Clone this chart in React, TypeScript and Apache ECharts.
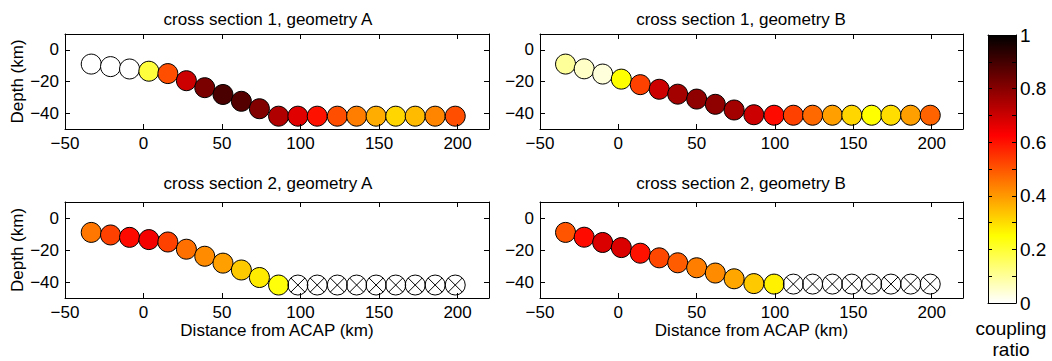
import React, { useEffect, useRef } from "react";
import * as echarts from "echarts";

// ---- data ----
const X_GEOM_A = [-33.3, -21.0, -8.9, 3.4, 15.5, 27.3, 39.0, 50.6, 62.3, 73.8, 86.0, 98.3, 110.6, 123.4, 135.7, 148.1, 160.6, 173.0, 185.7, 198.5];
const DEPTH_GEOM_A = [-9.0, -10.6, -12.1, -13.5, -15.0, -19.5, -23.9, -28.2, -32.5, -37.2, -41.9, -41.9, -41.9, -41.9, -41.9, -41.9, -41.9, -41.9, -41.9, -41.9];
const X_GEOM_B = [-33.7, -21.8, -10.0, 1.9, 14.0, 26.1, 37.9, 50.0, 61.9, 73.9, 86.5, 99.4, 111.7, 124.0, 136.6, 149.0, 161.7, 174.0, 186.6, 199.1];
const DEPTH_GEOM_B = [-9.0, -12.0, -15.3, -18.5, -22.0, -24.9, -28.0, -31.1, -34.4, -38.0, -41.0, -41.3, -41.3, -41.3, -41.3, -41.3, -41.3, -41.3, -41.3, -41.3];

const COUPLING_CS1_A = [0, 0, 0, 0.19, 0.51, 0.7, 0.82, 0.89, 0.875, 0.81, 0.74, 0.67, 0.6, 0.51, 0.44, 0.37, 0.31, 0.35, 0.43, 0.51];
const COUPLING_CS1_B = [0.1, 0.055, 0.035, 0.25, 0.53, 0.7, 0.76, 0.79, 0.79, 0.76, 0.7, 0.61, 0.53, 0.47, 0.39, 0.31, 0.25, 0.3, 0.39, 0.48];
const COUPLING_CS2_A = [0.45, 0.53, 0.61, 0.64, 0.53, 0.46, 0.42, 0.39, 0.33, 0.28, 0.24, null, null, null, null, null, null, null, null, null];
const COUPLING_CS2_B = [0.5, 0.61, 0.68, 0.68, 0.6, 0.52, 0.49, 0.44, 0.42, 0.38, 0.33, 0.27, null, null, null, null, null, null, null, null];

const PANEL_TITLES = [
  "cross section 1, geometry A",
  "cross section 1, geometry B",
  "cross section 2, geometry A",
  "cross section 2, geometry B",
];

const X_TICKS = [-50, 0, 50, 100, 150, 200];
const Y_TICKS = [-40, -20, 0];
const CB_LABELS = [0, 0.2, 0.4, 0.6, 0.8, 1];
const CB_TICKS = [0, 0.1, 0.2, 0.3, 0.4, 0.5, 0.6, 0.7, 0.8, 0.9, 1];

// reversed "hot" colormap, evenly spaced from 0 to 1
const COLORMAP = ["#ffffff", "#ffff80", "#ffff00", "#ffaa00", "#ff5500", "#ff0000", "#aa0000", "#550000", "#000000"];

const FONT = "'Liberation Sans', Arial, Helvetica, sans-serif";
const minus = (v: number) => String(v).replace("-", "\u2212");

const CROSS_PATH =
  "path://M0,-10A10,10,0,1,1,0,10A10,10,0,1,1,0,-10ZM-7.07,-7.07L7.07,7.07M-7.07,7.07L7.07,-7.07";

const PANELS = [
  { x: X_GEOM_A, y: DEPTH_GEOM_A, c: COUPLING_CS1_A },
  { x: X_GEOM_B, y: DEPTH_GEOM_B, c: COUPLING_CS1_B },
  { x: X_GEOM_A, y: DEPTH_GEOM_A, c: COUPLING_CS2_A },
  { x: X_GEOM_B, y: DEPTH_GEOM_B, c: COUPLING_CS2_B },
];

const GRIDS = [
  { left: 65, top: 34, width: 424, height: 95 },
  { left: 540, top: 34, width: 423, height: 95 },
  { left: 65, top: 202, width: 424, height: 96 },
  { left: 540, top: 202, width: 423, height: 96 },
  { left: 988, top: 35, width: 28, height: 268 },
];

const TITLE_POS = [
  { x: 268, y: 19 },
  { x: 741, y: 19 },
  { x: 268, y: 183 },
  { x: 741, y: 183 },
];

function buildOption() {
  const line = { onZero: false, lineStyle: { color: "#000", width: 1 } };
  const xAxes: any[] = [];
  const yAxes: any[] = [];
  for (let i = 0; i < 4; i++) {
    const tick = { inside: true, length: 5, lineStyle: { color: "#000" } };
    xAxes.push({
      type: "value", gridIndex: i, position: "bottom", min: -50, max: 220, z: 5,
      axisLine: line,
      axisTick: { ...tick, customValues: X_TICKS },
      axisLabel: { customValues: X_TICKS, formatter: minus, color: "#000", fontSize: 17, fontFamily: FONT, margin: 6 },
      splitLine: { show: false },
      name: i >= 2 ? "Distance from ACAP (km)" : "",
      nameLocation: "middle", nameGap: 24,
      nameTextStyle: { color: "#000", fontSize: 17, fontFamily: FONT },
    });
    xAxes.push({
      type: "value", gridIndex: i, position: "top", min: -50, max: 220, z: 5,
      axisLine: line,
      axisTick: { ...tick, customValues: X_TICKS },
      axisLabel: { show: false },
      splitLine: { show: false },
    });
    yAxes.push({
      type: "value", gridIndex: i, position: "left", min: -50, max: 10, z: 5,
      axisLine: line,
      axisTick: { ...tick, customValues: Y_TICKS },
      axisLabel: { customValues: Y_TICKS, formatter: minus, color: "#000", fontSize: 17, fontFamily: FONT, margin: 6 },
      splitLine: { show: false },
      name: i % 2 === 0 ? "Depth (km)" : "",
      nameLocation: "middle", nameGap: 39,
      nameTextStyle: { color: "#000", fontSize: 17, fontFamily: FONT },
    });
    yAxes.push({
      type: "value", gridIndex: i, position: "right", min: -50, max: 10, z: 5,
      axisLine: line,
      axisTick: { ...tick, customValues: Y_TICKS },
      axisLabel: { show: false },
      splitLine: { show: false },
    });
  }
  // colorbar axes (grid 4)
  xAxes.push({
    type: "value", gridIndex: 4, position: "bottom", min: 0, max: 1, z: 5,
    axisLine: { ...line, show: true }, axisTick: { show: false }, axisLabel: { show: false }, splitLine: { show: false },
  });
  xAxes.push({
    type: "value", gridIndex: 4, position: "top", min: 0, max: 1, z: 5,
    axisLine: { ...line, show: true }, axisTick: { show: false }, axisLabel: { show: false }, splitLine: { show: false },
  });
  yAxes.push({
    type: "value", gridIndex: 4, position: "right", min: 0, max: 1, z: 5,
    axisLine: line,
    axisTick: { inside: true, length: 4, customValues: CB_TICKS, lineStyle: { color: "#000" } },
    axisLabel: { customValues: CB_LABELS, color: "#000", fontSize: 19, fontFamily: FONT, margin: 4 },
    splitLine: { show: false },
  });
  yAxes.push({
    type: "value", gridIndex: 4, position: "left", min: 0, max: 1, z: 5,
    axisLine: line,
    axisTick: { inside: true, length: 4, customValues: CB_TICKS, lineStyle: { color: "#000" } },
    axisLabel: { show: false },
    splitLine: { show: false },
  });

  const colored: any[] = [];
  const crosses: any[] = [];
  PANELS.forEach((p, i) => {
    const filled: any[] = [];
    const empty: any[] = [];
    p.x.forEach((xv, k) => {
      if (p.c[k] === null) empty.push([xv, p.y[k]]);
      else filled.push([xv, p.y[k], p.c[k]]);
    });
    colored.push({
      type: "scatter", xAxisIndex: 2 * i, yAxisIndex: 2 * i,
      symbol: "circle", symbolSize: 20, clip: false,
      itemStyle: { borderColor: "#000", borderWidth: 1, opacity: 1 },
      data: filled,
    });
    crosses.push({
      type: "scatter", xAxisIndex: 2 * i, yAxisIndex: 2 * i,
      symbol: CROSS_PATH, symbolSize: 20, clip: false,
      itemStyle: { color: "rgba(0,0,0,0)", borderColor: "#000", borderWidth: 1, opacity: 1 },
      data: empty,
    });
  });

  const stops = COLORMAP.map((c, i) => ({ offset: 1 - i / (COLORMAP.length - 1), color: c })).reverse();

  const colorbar = {
    type: "custom", xAxisIndex: 8, yAxisIndex: 8, z: 1,
    data: [[0, 0]],
    renderItem: (_params: any, api: any) => {
      const tl = api.coord([0, 1]);
      const br = api.coord([1, 0]);
      return {
        type: "rect",
        shape: { x: tl[0], y: tl[1], width: br[0] - tl[0], height: br[1] - tl[1] },
        style: { fill: new echarts.graphic.LinearGradient(0, 0, 0, 1, stops) },
      };
    },
  };

  return {
    animation: false,
    backgroundColor: "#fff",
    title: PANEL_TITLES.map((t, i) => ({
      text: t, left: TITLE_POS[i].x, top: TITLE_POS[i].y, padding: 0,
      textAlign: "center", textVerticalAlign: "middle",
      textStyle: { color: "#000", fontSize: 17, fontWeight: "normal", fontFamily: FONT },
    })),
    grid: GRIDS,
    xAxis: xAxes,
    yAxis: yAxes,
    visualMap: {
      type: "continuous", show: false, min: 0, max: 1, dimension: 2,
      seriesIndex: [0, 1, 2, 3],
      inRange: { color: COLORMAP },
    },
    graphic: [
      {
        type: "text", x: 1011, y: 339,
        style: {
          text: "coupling\nratio", fill: "#000", fontSize: 19, fontFamily: FONT,
          align: "center", verticalAlign: "middle", lineHeight: 21,
        },
      },
    ],
    series: [...colored, ...crosses, colorbar],
  };
}

export default function App() {
  const ref = useRef<HTMLDivElement>(null);
  useEffect(() => {
    if (!ref.current) return;
    const chart = echarts.init(ref.current, null, { renderer: "svg" });
    chart.setOption(buildOption() as any);
    return () => chart.dispose();
  }, []);
  return (
    <div
      ref={ref}
      style={{ position: "fixed", left: 0, top: 0, width: 1052, height: 361, background: "#fff" }}
    />
  );
}
